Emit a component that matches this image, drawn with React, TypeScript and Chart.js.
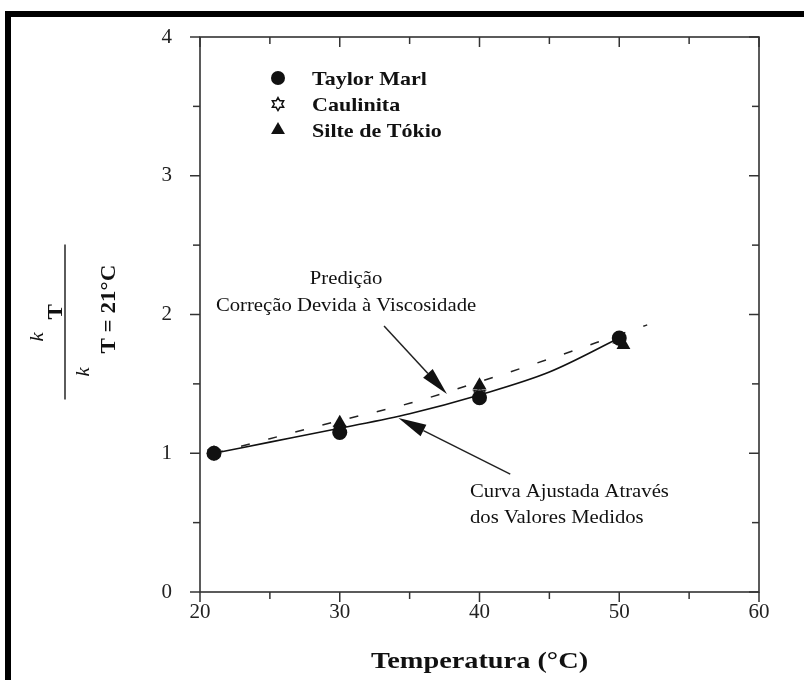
import React, { useEffect, useRef } from 'react';
import { Chart, registerables } from 'chart.js';

Chart.register(...registerables);

// Measured ratios k_T / k_(T=21°C)
const temps = [21, 30, 40, 50];
const taylorMarl = [1.0, 1.15, 1.4, 1.83];
const caulinita = [1.0, 1.17, 1.43, 1.82];
const silteTemps = [30, 40, 50.3];
const silteTokio = [1.22, 1.49, 1.78];

// Curve fitted through the measured values
const fitTemps = [21, 25, 30, 35, 40, 45, 50];
const fitValues = [1.0, 1.08, 1.18, 1.285, 1.42, 1.585, 1.83];

// Prediction from the viscosity correction
const predTemps = [21, 25, 30, 35, 40, 45, 50, 52];
const predValues = [1.0, 1.105, 1.235, 1.36, 1.515, 1.68, 1.855, 1.925];

const xTickLabels = [20, 30, 40, 50, 60];
const yTickLabels = [0, 1, 2, 3, 4];

const seriesNames = ['Taylor Marl', 'Caulinita', 'Silte de Tókio'];

const SERIF = '"Liberation Serif", "Times New Roman", serif';
const INK = '#111';

function makeHexagram(size: number): HTMLCanvasElement {
  const c = document.createElement('canvas');
  c.width = size;
  c.height = size;
  const ctx = c.getContext('2d')!;
  const cx = size / 2;
  const cy = size / 2;
  const r = size / 2 - 1.5;
  ctx.beginPath();
  for (let i = 0; i < 12; i++) {
    const ang = -Math.PI / 2 + (i * Math.PI) / 6;
    const rr = i % 2 === 0 ? r : r / Math.sqrt(3);
    const px = cx + Math.cos(ang) * rr;
    const py = cy + Math.sin(ang) * rr;
    if (i === 0) ctx.moveTo(px, py);
    else ctx.lineTo(px, py);
  }
  ctx.closePath();
  ctx.fillStyle = '#fff';
  ctx.fill();
  ctx.strokeStyle = INK;
  ctx.lineWidth = 1.5;
  ctx.stroke();
  return c;
}

function line(ctx: CanvasRenderingContext2D, x1: number, y1: number, x2: number, y2: number) {
  ctx.beginPath();
  ctx.moveTo(x1, y1);
  ctx.lineTo(x2, y2);
  ctx.stroke();
}

// Text drawn with a horizontal stretch, as in the typeset figure
function wideText(
  ctx: CanvasRenderingContext2D,
  text: string,
  x: number,
  y: number,
  sx: number,
  align: CanvasTextAlign = 'left',
) {
  ctx.save();
  ctx.textAlign = align;
  ctx.scale(sx, 1);
  ctx.fillText(text, x / sx, y);
  ctx.restore();
}

function arrow(ctx: CanvasRenderingContext2D, x1: number, y1: number, x2: number, y2: number) {
  const ang = Math.atan2(y2 - y1, x2 - x1);
  const headLen = 28;
  const headHalf = 6.5;
  const bx = x2 - Math.cos(ang) * headLen;
  const by = y2 - Math.sin(ang) * headLen;
  ctx.strokeStyle = '#222';
  ctx.lineWidth = 1.5;
  line(ctx, x1, y1, bx, by);
  ctx.beginPath();
  ctx.moveTo(x2, y2);
  ctx.lineTo(bx + Math.sin(ang) * headHalf, by - Math.cos(ang) * headHalf);
  ctx.lineTo(bx - Math.sin(ang) * headHalf, by + Math.cos(ang) * headHalf);
  ctx.closePath();
  ctx.fillStyle = INK;
  ctx.fill();
}

function drawMarker(ctx: CanvasRenderingContext2D, style: any, x: number, y: number, r: number) {
  ctx.fillStyle = INK;
  if (style === 'circle') {
    ctx.beginPath();
    ctx.arc(x, y, r, 0, Math.PI * 2);
    ctx.fill();
  } else if (style === 'triangle') {
    ctx.beginPath();
    for (let i = 0; i < 3; i++) {
      const a = (i * 2 * Math.PI) / 3;
      const px = x + Math.sin(a) * r;
      const py = y - Math.cos(a) * r;
      if (i === 0) ctx.moveTo(px, py);
      else ctx.lineTo(px, py);
    }
    ctx.closePath();
    ctx.fill();
  } else if (style instanceof HTMLCanvasElement) {
    ctx.drawImage(style, x - style.width / 2, y - style.height / 2);
  }
}

const decorations = {
  id: 'decorations',
  beforeDraw(chart: any) {
    const ctx: CanvasRenderingContext2D = chart.ctx;
    ctx.save();
    ctx.fillStyle = '#fff';
    ctx.fillRect(0, 0, chart.width, chart.height);
    // heavy frame along the top and left edges
    ctx.fillStyle = '#000';
    ctx.fillRect(5, 11, chart.width - 5, 6);
    ctx.fillRect(5, 11, 6, chart.height - 11);
    ctx.restore();
  },
  afterDraw(chart: any) {
    const ctx: CanvasRenderingContext2D = chart.ctx;
    const xs = chart.scales.x;
    const ys = chart.scales.y;
    const { left, right, top, bottom } = chart.chartArea;

    ctx.save();
    // plot box
    ctx.strokeStyle = '#333';
    ctx.lineWidth = 1.6;
    ctx.strokeRect(left, top, right - left, bottom - top);

    // tick marks: outward on bottom/left, inward on top/right
    ctx.lineWidth = 1.5;
    for (let v = 20; v <= 60; v += 5) {
      const px = xs.getPixelForValue(v);
      const len = v % 10 === 0 ? 10 : 7;
      line(ctx, px, bottom, px, bottom + len);
      line(ctx, px, top, px, top + len);
    }
    for (let v = 0; v <= 4; v += 0.5) {
      const py = ys.getPixelForValue(v);
      const len = Number.isInteger(v) ? 10 : 7;
      line(ctx, left, py, left - len, py);
      line(ctx, right, py, right - len, py);
    }

    // annotations with arrows
    const P = (x: number, y: number) => [xs.getPixelForValue(x), ys.getPixelForValue(y)];
    const [a1x, a1y] = P(33.17, 1.917);
    const [t1x, t1y] = P(37.67, 1.427);
    arrow(ctx, a1x, a1y, t1x, t1y);
    const [a2x, a2y] = P(42.2, 0.85);
    const [t2x, t2y] = P(34.2, 1.254);
    arrow(ctx, a2x, a2y, t2x, t2y);

    ctx.fillStyle = INK;
    ctx.font = `18px ${SERIF}`;
    ctx.textBaseline = 'middle';
    let [tx, ty] = P(30.45, 2.256);
    wideText(ctx, 'Predição', tx, ty, 1.15, 'center');
    [tx, ty] = P(30.45, 2.061);
    wideText(ctx, 'Correção Devida à Viscosidade', tx, ty, 1.15, 'center');
    [tx, ty] = P(39.32, 0.72);
    wideText(ctx, 'Curva Ajustada Através', tx, ty, 1.15, 'left');
    [tx, ty] = P(39.32, 0.533);
    wideText(ctx, 'dos Valores Medidos', tx, ty, 1.15, 'left');

    // legend
    const ds = chart.data.datasets;
    ctx.font = `bold 19px ${SERIF}`;
    ctx.textBaseline = 'alphabetic';
    for (let i = 0; i < 3; i++) {
      const my = top + 41 + i * 26;
      const style = ds[i].pointStyle;
      drawMarker(ctx, style, left + 78, my, style === 'triangle' ? 8 : 7);
      ctx.fillStyle = INK;
      wideText(ctx, ds[i].label, left + 112, my + 7, 1.16, 'left');
    }

    // x-axis title
    ctx.font = `bold 24px ${SERIF}`;
    ctx.textBaseline = 'alphabetic';
    wideText(ctx, 'Temperatura (°C)', (left + right) / 2, 668, 1.18, 'center');

    // y-axis title: k_T over k_(T = 21°C), rotated
    ctx.translate(65, (top + bottom) / 2 + 7);
    ctx.rotate(-Math.PI / 2);
    ctx.strokeStyle = '#333';
    ctx.lineWidth = 1.6;
    line(ctx, -78, 0, 77, 0);
    ctx.font = `italic 18px ${SERIF}`;
    wideText(ctx, 'k', -20, -22, 1.15, 'left');
    ctx.font = `bold 20px ${SERIF}`;
    wideText(ctx, 'T', 2, -3, 1.15, 'left');
    ctx.font = `italic 18px ${SERIF}`;
    wideText(ctx, 'k', -55, 24, 1.15, 'left');
    ctx.font = `bold 20px ${SERIF}`;
    wideText(ctx, 'T = 21°C', -32, 50, 1.15, 'left');
    ctx.restore();
  },
};

export default function App() {
  const canvasRef = useRef<HTMLCanvasElement | null>(null);

  useEffect(() => {
    const canvas = canvasRef.current;
    if (!canvas) return;
    const hexagram = makeHexagram(16);
    const pts = (xv: number[], yv: number[]) => xv.map((x, i) => ({ x, y: yv[i] }));

    const chart = new Chart(canvas, {
      type: 'scatter',
      data: {
        datasets: [
          {
            label: seriesNames[0],
            data: pts(temps, taylorMarl),
            pointStyle: 'circle',
            pointRadius: 7.5,
            backgroundColor: INK,
            borderColor: INK,
            borderWidth: 0,
          },
          {
            label: seriesNames[1],
            data: pts(temps, caulinita),
            pointStyle: hexagram as any,
            pointRadius: 8,
            backgroundColor: '#fff',
            borderColor: INK,
          },
          {
            label: seriesNames[2],
            data: pts(silteTemps, silteTokio),
            pointStyle: 'triangle',
            pointRadius: 8,
            backgroundColor: INK,
            borderColor: INK,
            borderWidth: 0,
          },
          {
            label: 'Curva Ajustada',
            type: 'line',
            data: pts(fitTemps, fitValues),
            borderColor: '#111',
            borderWidth: 1.6,
            pointRadius: 0,
            cubicInterpolationMode: 'monotone',
            fill: false,
          } as any,
          {
            label: 'Predição',
            type: 'line',
            data: pts(predTemps, predValues),
            borderColor: '#222',
            borderWidth: 1.5,
            borderDash: [9, 19],
            pointRadius: 0,
            cubicInterpolationMode: 'monotone',
            fill: false,
          } as any,
        ],
      },
      options: {
        responsive: false,
        animation: false,
        layout: { padding: { left: 0, top: 37, right: 45, bottom: 0 } },
        plugins: {
          legend: { display: false },
          tooltip: { enabled: false },
        },
        scales: {
          x: {
            type: 'linear',
            min: 20,
            max: 60,
            grid: { display: false, drawTicks: false },
            border: { display: false },
            ticks: {
              stepSize: 5,
              autoSkip: false,
              maxRotation: 0,
              padding: 8,
              color: '#222',
              font: { family: SERIF, size: 21 },
              callback: (v: any) => (xTickLabels.includes(Number(v)) ? String(v) : ''),
            },
            afterFit: (scale: any) => {
              scale.height = 88;
              scale.paddingLeft = 0;
              scale.paddingRight = 0;
            },
          },
          y: {
            type: 'linear',
            min: 0,
            max: 4,
            grid: { display: false, drawTicks: false },
            border: { display: false },
            ticks: {
              stepSize: 0.5,
              autoSkip: false,
              padding: 28,
              color: '#222',
              font: { family: SERIF, size: 21 },
              callback: (v: any) => (yTickLabels.includes(Number(v)) ? String(v) : ''),
            },
            afterFit: (scale: any) => {
              scale.width = 200;
              scale.paddingTop = 0;
              scale.paddingBottom = 0;
            },
          },
        },
      },
      plugins: [decorations],
    });

    return () => chart.destroy();
  }, []);

  return (
    <div style={{ position: 'fixed', left: 0, top: 0, width: 804, height: 680, background: '#fff' }}>
      <canvas ref={canvasRef} width={804} height={680} />
    </div>
  );
}
